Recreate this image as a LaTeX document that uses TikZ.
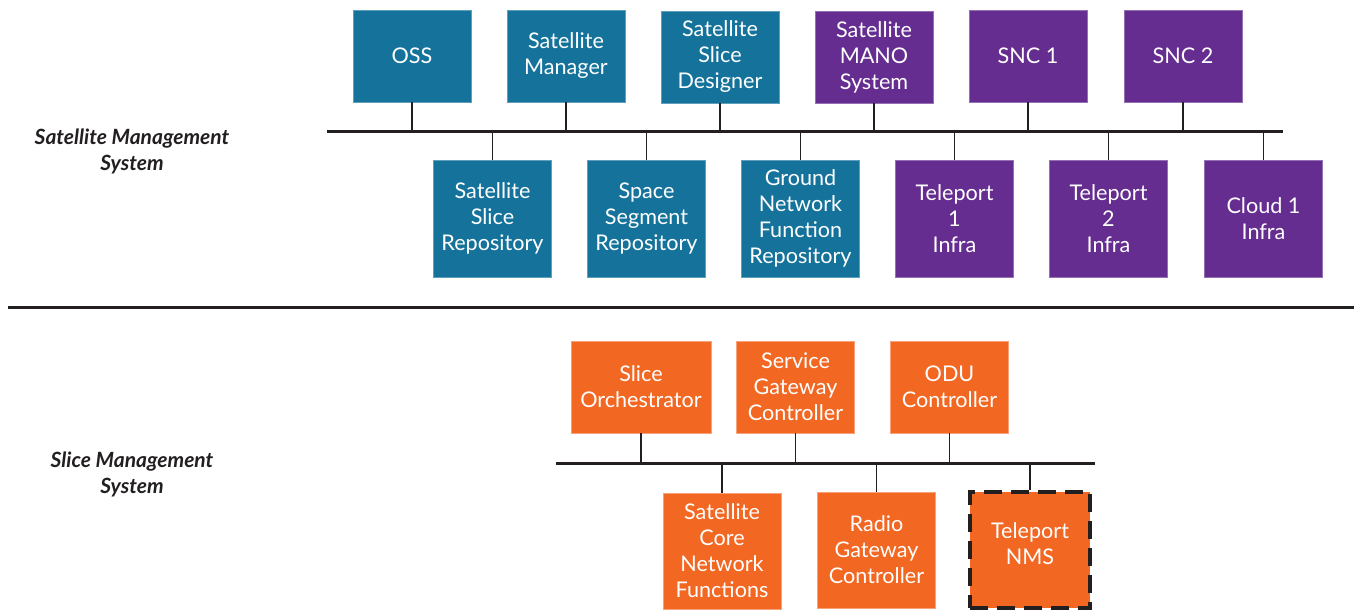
\documentclass[tikz,border=0pt]{standalone}
\usepackage{fontspec}
\setmainfont{Lato}
\definecolor{teal}{HTML}{15739B}
\definecolor{tealedge}{HTML}{5E9FBE}
\definecolor{purp}{HTML}{652D90}
\definecolor{purpedge}{HTML}{9470B4}
\definecolor{oran}{HTML}{F26722}
\definecolor{oranedge}{HTML}{F7A27A}
\definecolor{ink}{HTML}{231F20}
\begin{document}
\begin{tikzpicture}[x=0.5pt,y=-0.5pt,
  box/.style={rectangle, inner sep=0pt, align=center, text=white,
    font=\fontsize{10.8pt}{13pt}\selectfont, line width=0.4pt, minimum width=59pt},
  tb/.style={box, fill=teal, draw=tealedge},
  pb/.style={box, fill=purp, draw=purpedge},
  ob/.style={box, fill=oran, draw=oranedge},
  hup/.style={minimum height=46pt},
  hdn/.style={minimum height=58.5pt},
  bus/.style={draw=ink, line width=1.5pt},
  stub/.style={draw=ink, line width=0.8pt},
  grp/.style={font=\fontsize{10.5pt}{13pt}\selectfont\bfseries\itshape, text=ink, align=center},
  wtext/.style={text=white, align=center, inner sep=0pt, font=\fontsize{10.8pt}{13pt}\selectfont}
]
\useasboundingbox (0,0) rectangle (1356,610);

% ---------- Satellite Management System ----------
\node[tb,hup] (oss) at (412,56) {OSS};
\node[tb,hup] (smgr) at (566,56) {Satellite\\Manager};
\node[tb,hup] (ssd) at (720,57) {Satellite\\Slice\\Designer};
\node[pb,hup] (mano) at (874,57) {Satellite\\MANO\\System};
\node[pb,hup] (snc1) at (1028,56) {SNC 1};
\node[pb,hup] (snc2) at (1183,56) {SNC 2};

\node[tb,hdn] (ssr) at (492.5,218.5) {Satellite\\Slice\\Repository};
\node[tb,hdn] (ssegr) at (646.5,218.5) {Space\\Segment\\Repository};
\node[tb,hdn] (gnfr) at (800.5,218.5) {Ground\\Network\\Function\\Repository};
\node[pb,hdn] (tp1) at (954.5,218.5) {Teleport\\1\\Infra};
\node[pb,hdn] (tp2) at (1108.5,218.5) {Teleport\\2\\Infra};
\node[pb,hdn] (cl1) at (1263.5,218.5) {Cloud 1\\Infra};

\coordinate (busAL) at (327,132);
\coordinate (busAR) at (1283,132);
\draw[bus] (busAL) -- (busAR);
\foreach \n in {oss,smgr,ssd,mano,snc1,snc2}
  \draw[stub] (\n.south) -- (\n.south |- busAL);
\foreach \n in {ssr,ssegr,gnfr,tp1,tp2,cl1}
  \draw[stub] (\n.north) -- (\n.north |- busAL);

\node[grp] (smslabel) at (132,151) {Satellite Management\\System};

% ---------- divider ----------
\coordinate (divL) at (8,307);
\coordinate (divR) at (1354,307);
\draw[bus] (divL) -- (divR);

% ---------- Slice Management System ----------
\node[ob,hup,minimum width=70pt] (sorch) at (641,387) {Slice\\Orchestrator};
\node[ob,hup] (sgc) at (795.5,387) {Service\\Gateway\\Controller};
\node[ob,hup] (odu) at (949.5,387) {ODU\\Controller};

\node[ob,minimum height=58pt] (scnf) at (722,551) {Satellite\\Core\\Network\\Functions};
\node[ob,minimum height=58pt] (rgc) at (876.5,550) {Radio\\Gateway\\Controller};
\node[ob,minimum height=58pt,minimum width=60pt,draw=ink,line width=2pt,
      dash pattern=on 9pt off 4.5pt] (nms) at (1030,550) {};
\node[wtext] (nmstext) at (1030,544) {Teleport\\NMS};

\coordinate (busBL) at (556,463);
\coordinate (busBR) at (1095,463);
\draw[bus] (busBL) -- (busBR);
\foreach \n in {sorch,sgc,odu}
  \draw[stub] (\n.south) -- (\n.south |- busBL);
\foreach \n in {scnf,rgc,nms}
  \draw[stub] (\n.north) -- (\n.north |- busBL);

\node[grp] (slmlabel) at (132,474) {Slice Management\\System};
\end{tikzpicture}
\end{document}
